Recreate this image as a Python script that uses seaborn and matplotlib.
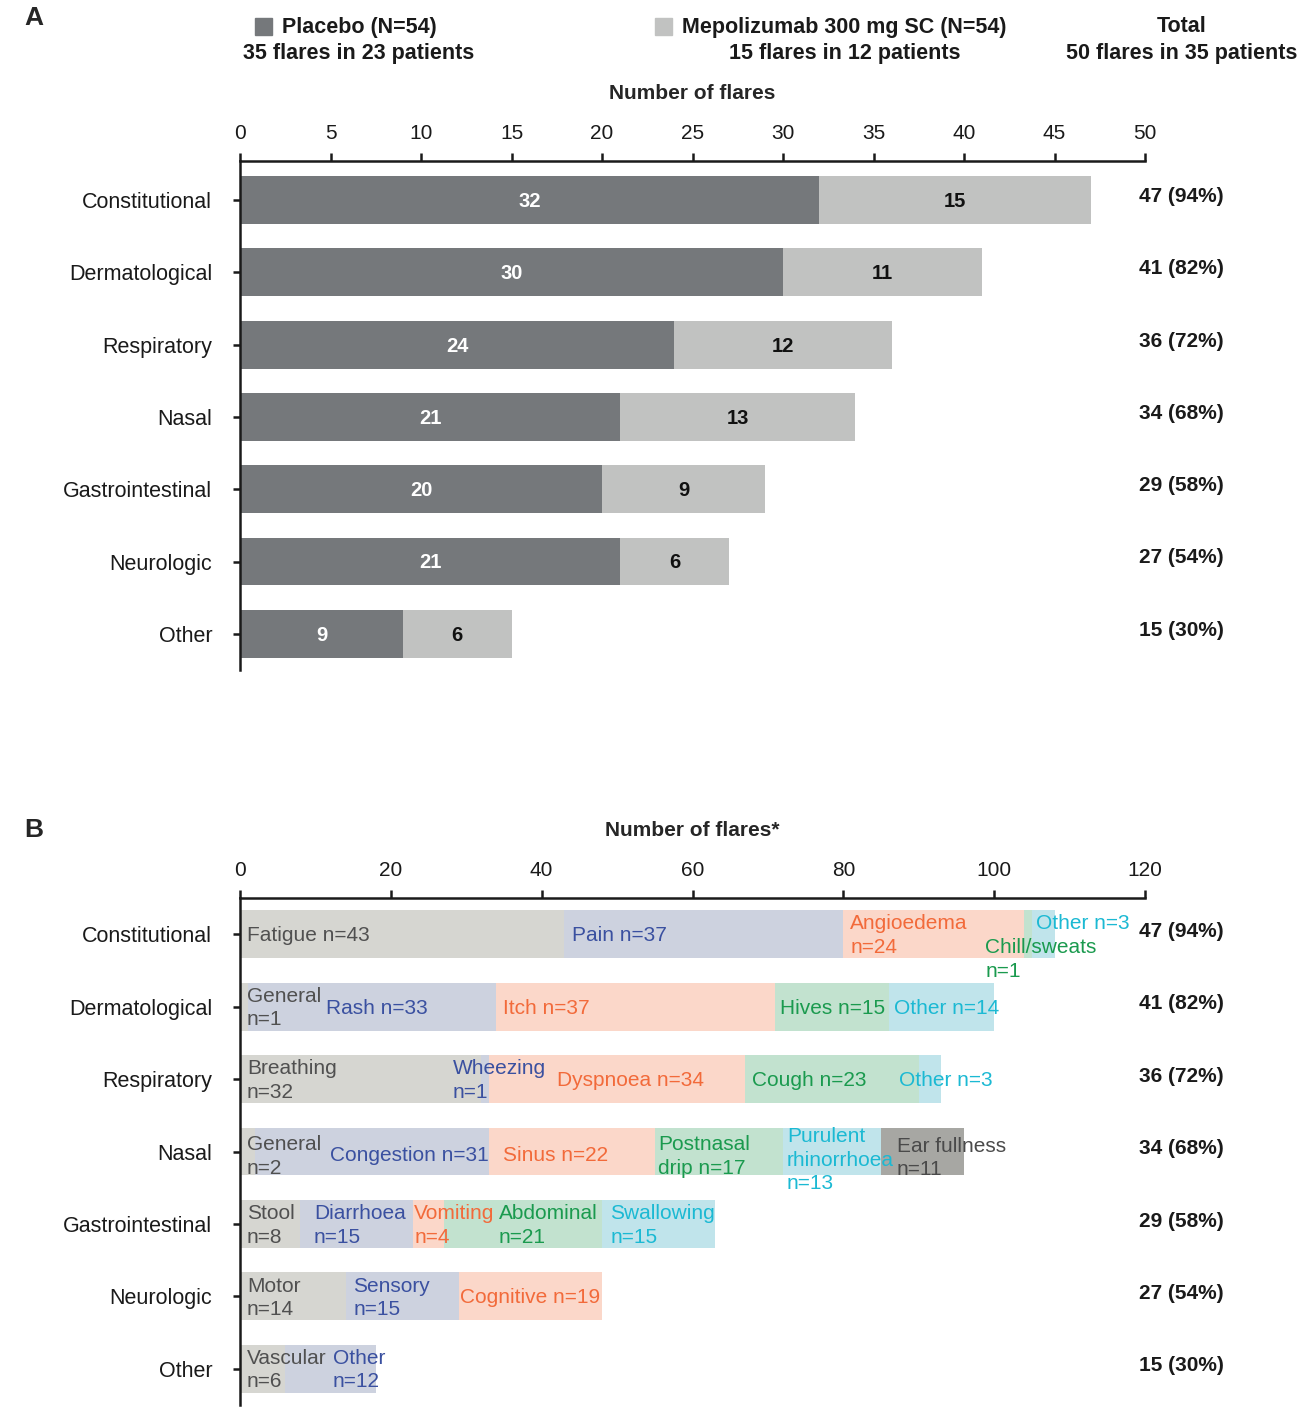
import numpy as np
import pandas as pd
import matplotlib
matplotlib.use('Agg')
import matplotlib.pyplot as plt
from matplotlib.patches import Rectangle
from matplotlib.transforms import blended_transform_factory
import seaborn as sns

# ── Data ──────────────────────────────────────────────────────────
categories     = ['Constitutional', 'Dermatological', 'Respiratory', 'Nasal',
                  'Gastrointestinal', 'Neurologic', 'Other']
placebo_flares = [32, 30, 24, 21, 20, 21, 9]
mepo_flares    = [15, 11, 12, 13, 9, 6, 6]
total_flares   = [47, 41, 36, 34, 29, 27, 15]
N_FLARES_ALL   = 50

legend_groups  = ['Placebo (N=54)', 'Mepolizumab 300 mg SC (N=54)', 'Total']
legend_flares  = [35, 15, 50]
legend_pts     = [23, 12, 35]

# panel B: symptoms reported within each category (left -> right)
symptom_names = [
    ['Fatigue', 'Pain', 'Angioedema', 'Chill/sweats', 'Other'],
    ['General', 'Rash', 'Itch', 'Hives', 'Other'],
    ['Breathing', 'Wheezing', 'Dyspnoea', 'Cough', 'Other'],
    ['General', 'Congestion', 'Sinus', 'Postnasal\ndrip', 'Purulent\nrhinorrhoea', 'Ear fullness'],
    ['Stool', 'Diarrhoea', 'Vomiting', 'Abdominal', 'Swallowing'],
    ['Motor', 'Sensory', 'Cognitive'],
    ['Vascular', 'Other'],
]
symptom_counts = [
    [43, 37, 24, 1, 3],
    [1, 33, 37, 15, 14],
    [32, 1, 34, 23, 3],
    [2, 31, 22, 17, 13, 11],
    [8, 15, 4, 21, 15],
    [14, 15, 19],
    [6, 12],
]
# put "n=.." on its own line?
symptom_wrap = [
    [False, False, True, True, False],
    [True, False, False, False, False],
    [True, True, False, False, False],
    [True, False, False, False, True, True],
    [True, True, True, True, True],
    [True, True, False],
    [True, True],
]
# where the text sits (x in flares, y shift in bar units) - hand placed like the original
label_x = [
    [0.9, 44.0, 80.9, 98.8, 105.5],
    [0.9, 11.4, 34.9, 71.6, 86.7],
    [0.9, 28.2, 42.0, 67.9, 87.4],
    [0.9, 11.9, 34.9, 55.4, 72.5, 87.1],
    [0.9, 9.8, 23.1, 34.3, 49.1],
    [0.9, 15.0, 29.2],
    [0.9, 12.3],
]
label_dy = [
    [0.0, 0.0, 0.0, 0.33, -0.17],
    [0.0] * 5,
    [0.0] * 5,
    [0.05, 0.03, 0.03, 0.05, 0.10, 0.07],
    [0.0] * 5,
    [0.0] * 3,
    [0.0] * 2,
]

# ── Style ─────────────────────────────────────────────────────────
PLACEBO_C = '#75787b'
MEPO_C    = '#c1c2c1'
seg_fill  = ['#d6d6d1', '#cdd2df', '#fbd7c9', '#c2e2cf', '#c0e4eb', '#a7a7a3']
seg_text  = ['#505050', '#3a50a0', '#f26a3a', '#1a9a4e', '#1bb9d3', '#4a4a4a']
BAR_W     = 0.66
LW        = 1.8

sns.set_style('white')
plt.rcParams['font.family'] = ['Liberation Sans', 'DejaVu Sans']

W, H = 1299, 1407
fig = plt.figure(figsize=(W / 100, H / 100), dpi=100)


def px_axes(left, top, right, bottom):
    return fig.add_axes([left / W, 1 - bottom / H, (right - left) / W, (bottom - top) / H])


def style_axis(ax, xmax, step, xlabel):
    ax.set_xlim(0, xmax)
    ax.set_xticks(np.arange(0, xmax + 1, step))
    ax.xaxis.tick_top()
    ax.xaxis.set_label_position('top')
    ax.set_xlabel(xlabel, fontsize=15, fontweight='bold', labelpad=18)
    ax.set_ylabel('')
    for s in ['right', 'bottom']:
        ax.spines[s].set_visible(False)
    for s in ['top', 'left']:
        ax.spines[s].set_linewidth(LW)
        ax.spines[s].set_color('#1a1a1a')
    ax.tick_params(axis='x', which='both', top=True, bottom=False, direction='out',
                   length=6, width=LW, labelsize=15, pad=7, colors='#1a1a1a')
    ax.tick_params(axis='y', left=True, direction='out', length=5, width=LW,
                   labelsize=15.5, pad=15, colors='#1a1a1a')


# ── Panel A ───────────────────────────────────────────────────────
axA = px_axes(240, 161, 1145, 670)
dfA = pd.DataFrame({'category': categories,
                    'placebo': placebo_flares,
                    'total': np.array(placebo_flares) + np.array(mepo_flares)})
sns.barplot(data=dfA, x='total', y='category', orient='h', color=MEPO_C,
            saturation=1, width=BAR_W, errorbar=None, linewidth=0, ax=axA)
sns.barplot(data=dfA, x='placebo', y='category', orient='h', color=PLACEBO_C,
            saturation=1, width=BAR_W, errorbar=None, linewidth=0, ax=axA)
style_axis(axA, 50, 5, 'Number of flares')
axA.set_ylim(6.5, -0.54)

for i, (p, m) in enumerate(zip(placebo_flares, mepo_flares)):
    axA.text(p / 2, i + 0.02, str(p), ha='center', va='center', color='white',
             fontsize=14.5, fontweight='bold')
    axA.text(p + m / 2, i + 0.02, str(m), ha='center', va='center', color='#111111',
             fontsize=14.5, fontweight='bold')

trA = blended_transform_factory(axA.transAxes, axA.transData)
for i, t in enumerate(total_flares):
    axA.text(0.9934, i - 0.05, f'{t} ({t / N_FLARES_ALL * 100:.0f}%)', transform=trA,
             ha='left', va='center', fontsize=15, fontweight='bold', color='#1a1a1a',
             clip_on=False)

# ── Panel B ───────────────────────────────────────────────────────
axB = px_axes(240, 898, 1145, 1405)
n_seg = max(len(c) for c in symptom_counts)
padded = np.array([c + [0] * (n_seg - len(c)) for c in symptom_counts])
cum = padded.cumsum(axis=1)
# draw cumulative bars from the right-most segment down so they stack
for k in range(n_seg - 1, -1, -1):
    dfB = pd.DataFrame({'category': categories, 'flares': cum[:, k]})
    sns.barplot(data=dfB, x='flares', y='category', orient='h', color=seg_fill[k],
                saturation=1, width=BAR_W, errorbar=None, linewidth=0, ax=axB)
style_axis(axB, 120, 20, 'Number of flares*')
axB.set_ylim(6.5, -0.5)

for i in range(len(categories)):
    for k, (name, n) in enumerate(zip(symptom_names[i], symptom_counts[i])):
        sep = '\n' if symptom_wrap[i][k] else ' '
        axB.text(label_x[i][k], i + label_dy[i][k] + 0.02, f'{name}{sep}n={n}',
                 ha='left', va='center', fontsize=15, color=seg_text[k],
                 linespacing=1.3, clip_on=False)

trB = blended_transform_factory(axB.transAxes, axB.transData)
for i, t in enumerate(total_flares):
    axB.text(0.9934, i - 0.04, f'{t} ({t / N_FLARES_ALL * 100:.0f}%)', transform=trB,
             ha='left', va='center', fontsize=15, fontweight='bold', color='#1a1a1a',
             clip_on=False)

# ── Header legend & panel letters ─────────────────────────────────
fig.text(24 / W, 1 - 18 / H, 'A', fontsize=19, fontweight='bold', va='center')
fig.text(24 / W, 1 - 830 / H, 'B', fontsize=19, fontweight='bold', va='center')

swatch_x = [255, 655]
for sx, c in zip(swatch_x, [PLACEBO_C, MEPO_C]):
    fig.patches.append(Rectangle((sx / W, 1 - 35 / H), 17 / W, 17 / H, color=c,
                                 transform=fig.transFigure, figure=fig))

head_x   = [282, 682, 1182]
head_ha  = ['left', 'left', 'center']
sub_x    = [359, 845, 1182]
for g, f, p, hx, ha, sx in zip(legend_groups, legend_flares, legend_pts, head_x, head_ha, sub_x):
    fig.text(hx / W, 1 - 27 / H, g, ha=ha, va='center', fontsize=15.5,
             fontweight='bold', color='#1a1a1a')
    fig.text(sx / W, 1 - 53 / H, f'{f} flares in {p} patients', ha='center', va='center',
             fontsize=15.5, fontweight='bold', color='#1a1a1a')

plt.savefig('out.png', dpi=100)
